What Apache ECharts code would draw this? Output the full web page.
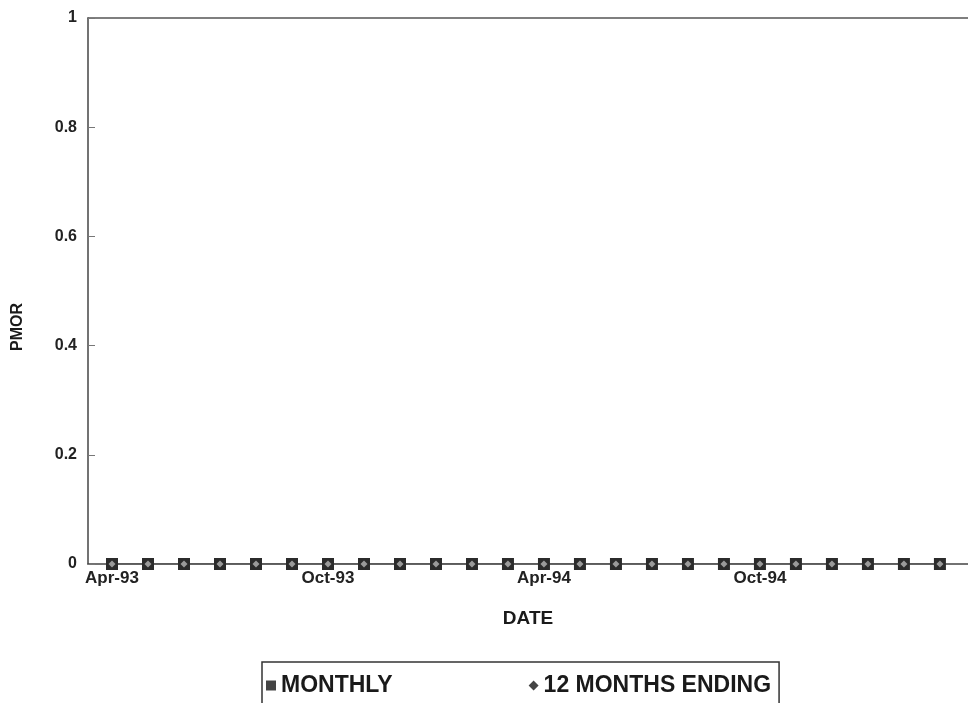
<!DOCTYPE html>
<html>
<head>
<meta charset="utf-8">
<title>PMOR</title>
<script src="https://cdn.jsdelivr.net/npm/echarts@6/dist/echarts.min.js"></script>
<style>
html,body{margin:0;padding:0;background:#fff;}
#main{width:968px;height:703px;}
</style>
</head>
<body>
<div id="main"></div>
<script type="text/javascript">
// months Apr-93 .. Mar-95
var months = ['Apr-93','May-93','Jun-93','Jul-93','Aug-93','Sep-93','Oct-93','Nov-93','Dec-93','Jan-94','Feb-94','Mar-94',
              'Apr-94','May-94','Jun-94','Jul-94','Aug-94','Sep-94','Oct-94','Nov-94','Dec-94','Jan-95','Feb-95','Mar-95'];
var monthly    = [0,0,0,0,0,0,0,0,0,0,0,0,0,0,0,0,0,0,0,0,0,0,0,0];
var twelveEnd  = [0,0,0,0,0,0,0,0,0,0,0,0,0,0,0,0,0,0,0,0,0,0,0,0];
var labelIdx   = [0,6,12,18];

function pairs(arr){
    var out=[];
    for(var i=0;i<arr.length;i++){ out.push([i,arr[i]]); }
    return out;
}

var chart = echarts.init(document.getElementById('main'));
var font = 'Arial, "Liberation Sans", sans-serif';
var xMin = -0.667, xMax = 23.78;

var option = {
    animation:false,
    backgroundColor:'#fff',
    grid:{ left:88, right:0, top:18, bottom:139 },
    xAxis:[{
        type:'value',
        min:xMin, max:xMax,
        name:'DATE',
        nameLocation:'middle',
        nameGap:45,
        nameTextStyle:{fontFamily:font, fontSize:19, fontWeight:'bold', color:'#1a1a1a'},
        axisLine:{show:true, lineStyle:{color:'#444', width:1.5}},
        axisTick:{show:false},
        splitLine:{show:false},
        axisLabel:{
            customValues:labelIdx,
            margin:6,
            fontFamily:font, fontSize:17, fontWeight:'bold', color:'#222',
            formatter:function(v){ return months[Math.round(v)]; }
        }
    },{
        type:'value',
        position:'top',
        min:xMin, max:xMax,
        axisLine:{show:true, onZero:false, lineStyle:{color:'#555', width:1.5}},
        axisTick:{show:false},
        axisLabel:{show:false},
        splitLine:{show:false}
    }],
    yAxis:{
        type:'value',
        min:0, max:1, interval:0.2,
        axisLine:{show:true, onZero:false, lineStyle:{color:'#444', width:1.5}},
        axisTick:{show:true, inside:true, length:7, lineStyle:{color:'#777'}},
        splitLine:{show:false},
        axisLabel:{
            margin:11,
            fontFamily:font, fontSize:16, fontWeight:'bold', color:'#222',
            formatter:function(v){ return String(Math.round(v*10)/10); }
        }
    },
    legend:{
        left:262, top:662,
        borderColor:'#333', borderWidth:1.5,
        padding:[12,8,22,4],
        itemGap:136,
        itemWidth:10, itemHeight:10,
        textStyle:{fontFamily:font, fontSize:23, fontWeight:'bold', color:'#1a1a1a'},
        data:[
            {name:'MONTHLY', icon:'rect', itemStyle:{color:'#444'}},
            {name:'12 MONTHS ENDING', icon:'diamond', itemStyle:{color:'#444'}}
        ]
    },
    graphic:[{
        type:'text',
        x:18, y:327,
        rotation:Math.PI/2,
        style:{text:'PMOR', font:'bold 16px '+font, fill:'#1a1a1a', align:'center', verticalAlign:'middle'}
    }],
    series:[
        {
            name:'MONTHLY',
            type:'line',
            data:pairs(monthly),
            symbol:'rect',
            symbolSize:12,
            lineStyle:{color:'#555', width:1.2},
            itemStyle:{color:'#2b2b2b'}
        },
        {
            name:'12 MONTHS ENDING',
            type:'line',
            data:pairs(twelveEnd),
            symbol:'diamond',
            symbolSize:7,
            lineStyle:{color:'#555', width:1.2},
            itemStyle:{color:'#9a9a9a'}
        }
    ]
};
chart.setOption(option);
</script>
</body>
</html>
